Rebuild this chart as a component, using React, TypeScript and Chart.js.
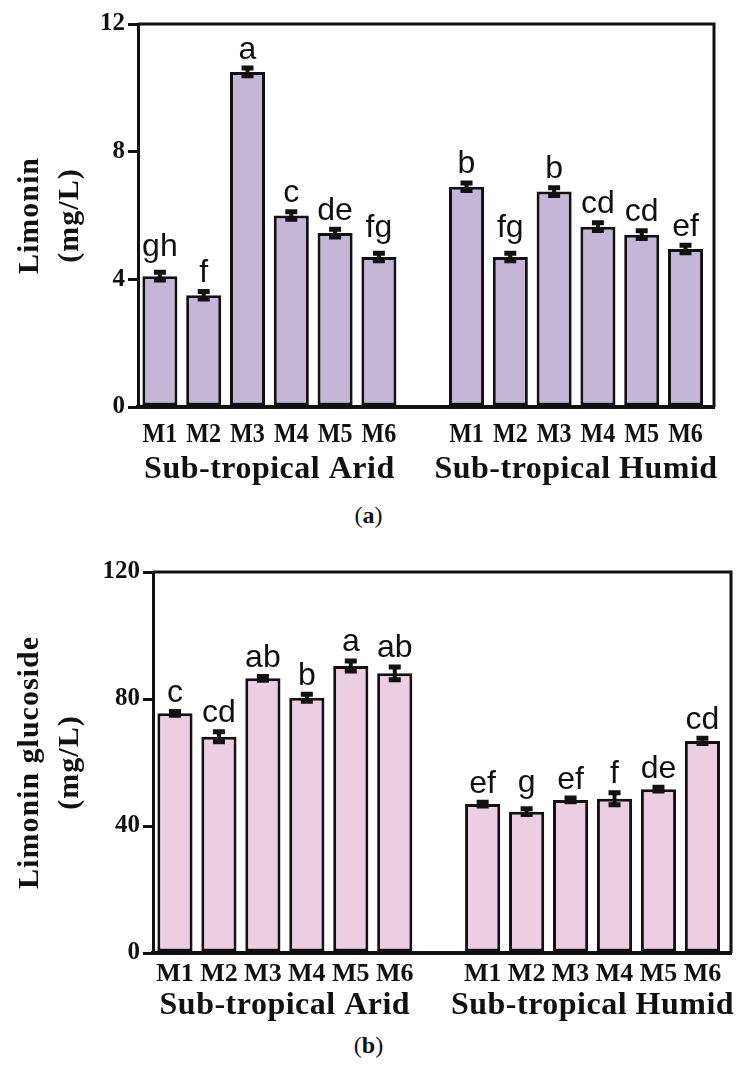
import React, { useEffect, useRef } from 'react';
import { Chart, registerables } from 'chart.js';

Chart.register(...registerables);

// ---------- data ----------
const treatments = ['M1', 'M2', 'M3', 'M4', 'M5', 'M6'];
const groupNames = ['Sub-tropical Arid', 'Sub-tropical Humid'];
const groupCenters = [2.5, 9.5];
const xPositions = [0, 1, 2, 3, 4, 5, 7, 8, 9, 10, 11, 12];
const xLabels = [...treatments, ...treatments];

const limoninValues = [4.1, 3.5, 10.5, 6.0, 5.45, 4.7, 6.9, 4.7, 6.75, 5.65, 5.4, 4.95];
const limoninErrors = [0.12, 0.12, 0.12, 0.12, 0.12, 0.12, 0.12, 0.12, 0.12, 0.12, 0.12, 0.12];
const limoninLetters = ['gh', 'f', 'a', 'c', 'de', 'fg', 'b', 'fg', 'b', 'cd', 'cd', 'ef'];
const limoninTicks = [0, 4, 8, 12];

const glucosideValues = [75.5, 68.1, 86.5, 80.4, 90.4, 88.1, 46.9, 44.5, 48.2, 48.6, 51.6, 66.8];
const glucosideErrors = [0.6, 1.6, 0.6, 1.1, 1.6, 2.0, 0.6, 0.9, 0.6, 1.9, 0.6, 0.8];
const glucosideLetters = ['c', 'cd', 'ab', 'b', 'a', 'ab', 'ef', 'g', 'ef', 'f', 'de', 'cd'];
const glucosideTicks = [0, 40, 80, 120];

const INK = '#111111';
const SERIF = '"Liberation Serif", "DejaVu Serif", serif';
const SANS = '"Liberation Sans", Arial, sans-serif';

type PanelOpts = {
  values: number[];
  errors: number[];
  letters: string[];
  ticks: number[];
  fill: string;
  titleLines: string[];
  titleX: number[];
  padTop: number;
  padRight: number;
  yAxisWidth: number;
  xAxisHeight: number;
  xLabelOffset: number;
  xLabelSize: number;
  xLabelScale: number;
  groupLabelOffset: number;
};

const decorPlugin = {
  id: 'decor',
  afterDatasetsDraw(chart: any, _args: any, opts: any) {
    const p: PanelOpts = opts.panel;
    const ctx = chart.ctx;
    const xs = chart.scales.x;
    const ys = chart.scales.y;
    ctx.save();
    // error bars
    ctx.strokeStyle = INK;
    for (let i = 0; i < p.values.length; i++) {
      const x = xs.getPixelForValue(xPositions[i]);
      const hi = ys.getPixelForValue(p.values[i] + p.errors[i]);
      const lo = ys.getPixelForValue(p.values[i] - p.errors[i]);
      ctx.lineWidth = 4;
      ctx.beginPath();
      ctx.moveTo(x, hi);
      ctx.lineTo(x, lo);
      ctx.stroke();
      ctx.lineWidth = 5;
      ctx.beginPath();
      ctx.moveTo(x - 6, hi);
      ctx.lineTo(x + 6, hi);
      ctx.moveTo(x - 6, lo);
      ctx.lineTo(x + 6, lo);
      ctx.stroke();
    }
    // significance letters
    ctx.fillStyle = INK;
    ctx.font = `32px ${SANS}`;
    ctx.textAlign = 'center';
    ctx.textBaseline = 'alphabetic';
    for (let i = 0; i < p.values.length; i++) {
      const x = xs.getPixelForValue(xPositions[i]);
      const hi = ys.getPixelForValue(p.values[i] + p.errors[i]);
      const m = ctx.measureText(p.letters[i]);
      const desc = Math.max(0, m.actualBoundingBoxDescent);
      ctx.fillText(p.letters[i], x, hi - 2.5 - 7 - desc);
    }
    ctx.restore();
  },
  afterDraw(chart: any, _args: any, opts: any) {
    const p: PanelOpts = opts.panel;
    const ctx = chart.ctx;
    const xs = chart.scales.x;
    const a = chart.chartArea;
    ctx.save();
    // frame (top and right)
    ctx.strokeStyle = INK;
    ctx.lineWidth = 3;
    ctx.beginPath();
    ctx.moveTo(a.left, a.top);
    ctx.lineTo(a.right, a.top);
    ctx.lineTo(a.right, a.bottom);
    ctx.stroke();
    // x labels
    ctx.fillStyle = INK;
    ctx.textAlign = 'center';
    ctx.textBaseline = 'middle';
    ctx.font = `bold ${p.xLabelSize}px ${SERIF}`;
    for (let i = 0; i < xLabels.length; i++) {
      ctx.save();
      ctx.translate(xs.getPixelForValue(xPositions[i]), a.bottom + p.xLabelOffset);
      ctx.scale(p.xLabelScale, 1);
      ctx.fillText(xLabels[i], 0, 0);
      ctx.restore();
    }
    // group labels
    ctx.font = `bold 32px ${SERIF}`;
    (ctx as any).letterSpacing = '0.5px';
    for (let g = 0; g < groupNames.length; g++) {
      ctx.fillText(groupNames[g], xs.getPixelForValue(groupCenters[g]), a.bottom + p.groupLabelOffset);
    }
    // y title
    ctx.font = `bold 30px ${SERIF}`;
    (ctx as any).letterSpacing = '1px';
    const cy = (a.top + a.bottom) / 2;
    for (let k = 0; k < p.titleLines.length; k++) {
      ctx.save();
      ctx.translate(p.titleX[k], cy);
      ctx.rotate(-Math.PI / 2);
      ctx.fillText(p.titleLines[k], 0, 0);
      ctx.restore();
    }
    (ctx as any).letterSpacing = '0px';
    ctx.restore();
  },
};

function makeConfig(p: PanelOpts): any {
  return {
    type: 'bar',
    data: {
      datasets: [
        {
          data: xPositions.map((x, i) => ({ x, y: p.values[i] })),
          backgroundColor: p.fill,
          borderColor: INK,
          borderWidth: 3,
          borderSkipped: false,
          barPercentage: 0.8,
          categoryPercentage: 1,
        },
      ],
    },
    options: {
      responsive: false,
      animation: false,
      layout: { padding: { top: p.padTop, right: p.padRight, left: 0, bottom: 0 } },
      plugins: {
        legend: { display: false },
        tooltip: { enabled: false },
        decor: { panel: p },
      },
      scales: {
        x: {
          type: 'linear',
          offset: false,
          min: -0.5,
          max: 12.65,
          grid: { display: false },
          border: { display: true, width: 4, color: INK },
          ticks: { display: false },
          afterFit: (s: any) => {
            s.height = p.xAxisHeight;
          },
        },
        y: {
          type: 'linear',
          min: 0,
          max: p.ticks[p.ticks.length - 1],
          afterBuildTicks: (s: any) => {
            s.ticks = p.ticks.map((v) => ({ value: v }));
          },
          ticks: {
            color: INK,
            padding: 3,
            font: { family: SERIF, size: 25, weight: 'bold' },
          },
          grid: {
            display: true,
            drawOnChartArea: false,
            drawTicks: true,
            tickLength: 10,
            lineWidth: 3,
            color: INK,
          },
          border: { display: true, width: 3, color: INK },
          afterFit: (s: any) => {
            s.width = p.yAxisWidth;
          },
        },
      },
    },
    plugins: [decorPlugin],
  };
}

function Panel({ opts, top, height }: { opts: PanelOpts; top: number; height: number }) {
  const ref = useRef<HTMLCanvasElement | null>(null);
  useEffect(() => {
    if (!ref.current) return;
    const chart = new Chart(ref.current, makeConfig(opts));
    return () => chart.destroy();
  }, []);
  return (
    <canvas
      ref={ref}
      width={737}
      height={height}
      style={{ position: 'absolute', left: 0, top, width: 737, height }}
    />
  );
}

const panelA: PanelOpts = {
  values: limoninValues,
  errors: limoninErrors,
  letters: limoninLetters,
  ticks: limoninTicks,
  fill: '#c4b6d6',
  titleLines: ['Limonin', '(mg/L)'],
  titleX: [30, 70],
  padTop: 24,
  padRight: 23,
  yAxisWidth: 138,
  xAxisHeight: 93,
  xLabelOffset: 28,
  xLabelSize: 28,
  xLabelScale: 0.86,
  groupLabelOffset: 63,
};

const panelB: PanelOpts = {
  values: glucosideValues,
  errors: glucosideErrors,
  letters: glucosideLetters,
  ticks: glucosideTicks,
  fill: '#eccde1',
  titleLines: ['Limonin glucoside', '(mg/L)'],
  titleX: [30, 70],
  padTop: 42,
  padRight: 6,
  yAxisWidth: 153,
  xAxisHeight: 77,
  xLabelOffset: 21,
  xLabelSize: 26,
  xLabelScale: 1,
  groupLabelOffset: 53,
};

const captionStyle: React.CSSProperties = {
  position: 'absolute',
  left: 0,
  width: 737,
  textAlign: 'center',
  fontFamily: SERIF,
  fontSize: 24,
  lineHeight: '26px',
  color: INK,
};

export default function App() {
  return (
    <div style={{ position: 'absolute', left: 0, top: 0, width: 737, height: 1070, background: '#fff' }}>
      <Panel opts={panelA} top={0} height={500} />
      <div style={{ ...captionStyle, top: 502 }}>
        (<b>a</b>)
      </div>
      <Panel opts={panelB} top={530} height={500} />
      <div style={{ ...captionStyle, top: 1032 }}>
        (<b>b</b>)
      </div>
    </div>
  );
}
